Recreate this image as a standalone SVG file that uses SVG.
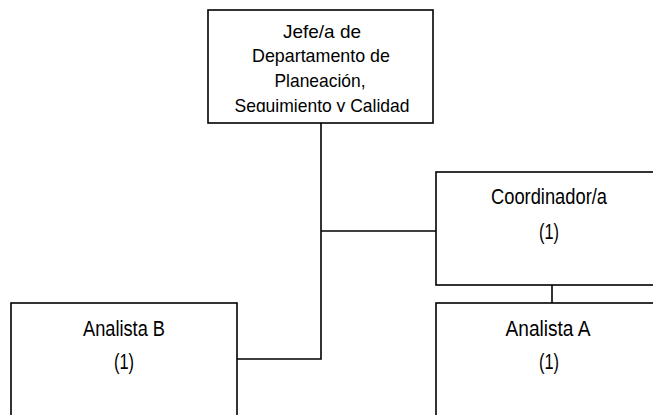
<svg xmlns="http://www.w3.org/2000/svg" width="653" height="415" viewBox="0 0 653 415">
<style>
.box{fill:#fff;stroke:#000;stroke-width:1.6}
.ln{stroke:#000;stroke-width:1.6;fill:none}
text{font-family:"Liberation Sans",Arial,sans-serif;fill:#000;text-anchor:middle}
.t1{font-size:19px}
.t2{font-size:22px}
</style>
<defs>
<clipPath id="clipTop"><rect x="208" y="10" width="225" height="102"/></clipPath>
</defs>
<g id="connectors">
<path class="ln" d="M321 123 V359 H237"/>
<path class="ln" d="M321 231 H436"/>
<path class="ln" d="M552 285 V303"/>
</g>
<g id="jefe">
<rect class="box" x="208" y="10" width="225" height="113"/>
<g clip-path="url(#clipTop)">
<text class="t1" x="322" y="38" textLength="78" lengthAdjust="spacingAndGlyphs">Jefe/a de</text>
<text class="t1" x="321" y="62" textLength="138" lengthAdjust="spacingAndGlyphs">Departamento de</text>
<text class="t1" x="320" y="87" textLength="91" lengthAdjust="spacingAndGlyphs">Planeación,</text>
<text class="t1" x="322" y="112" textLength="175" lengthAdjust="spacingAndGlyphs">Seguimiento y Calidad</text>
</g>
</g>
<g id="coordinador">
<rect class="box" x="436" y="172" width="226" height="113"/>
<text class="t2" x="549" y="204" textLength="116" lengthAdjust="spacingAndGlyphs">Coordinador/a</text>
<text class="t2" x="549" y="239" textLength="20" lengthAdjust="spacingAndGlyphs">(1)</text>
</g>
<g id="analistaB">
<rect class="box" x="11" y="303" width="226" height="113"/>
<text class="t2" x="124" y="336" textLength="82" lengthAdjust="spacingAndGlyphs">Analista B</text>
<text class="t2" x="124" y="369" textLength="20" lengthAdjust="spacingAndGlyphs">(1)</text>
</g>
<g id="analistaA">
<rect class="box" x="436" y="303" width="226" height="113"/>
<text class="t2" x="548" y="336" textLength="85" lengthAdjust="spacingAndGlyphs">Analista A</text>
<text class="t2" x="549" y="369" textLength="20" lengthAdjust="spacingAndGlyphs">(1)</text>
</g>
</svg>
